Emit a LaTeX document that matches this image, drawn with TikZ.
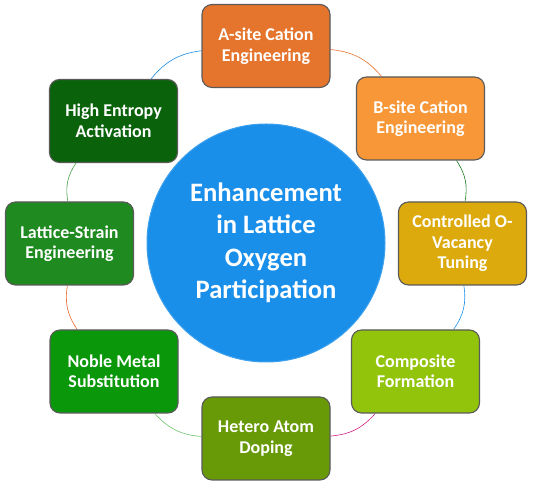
\documentclass[tikz,border=0pt]{standalone}
\usepackage{fontspec}
\setmainfont{Carlito}
\usetikzlibrary{backgrounds}
\definecolor{cHub}{HTML}{1A8FEA}
\definecolor{cAsite}{HTML}{E5742C}
\definecolor{cBsite}{HTML}{F79738}
\definecolor{cVac}{HTML}{DCAA0C}
\definecolor{cComp}{HTML}{92C40C}
\definecolor{cHetero}{HTML}{679A06}
\definecolor{cNoble}{HTML}{0A980A}
\definecolor{cStrain}{HTML}{1F8A1F}
\definecolor{cEntropy}{HTML}{0A620A}
\definecolor{cEdge}{HTML}{5A5A5A}
\tikzset{
  every picture/.style={line width=0.5pt},
  cbox/.style={draw=cEdge, line width=1.1pt, rounded corners=10pt,
               minimum width=128pt, minimum height=83pt, align=center,
               text=white, font=\bfseries\fontsize{18}{20.5}\selectfont},
  hub/.style={circle, fill=cHub, draw=cHub!85!white, line width=1pt,
              minimum size=238pt, align=center, text=white,
              font=\bfseries\fontsize{26.6}{32.5}\selectfont},
  ring/.style={line width=0.6pt, bend left=22},
}

\begin{document}
\begin{tikzpicture}[x=1pt,y=1pt]
\useasboundingbox (0,0) rectangle (533,487);

% centre
\node[hub] (hub) at (266,244) {Enhancement\\in Lattice\\Oxygen\\Participation};

% the eight routes
\node[cbox, fill=cAsite]   (asite)   at (266,441)   {A-site Cation\\Engineering};
\node[cbox, fill=cBsite]   (bsite)   at (420.5,368.5) {B-site Cation\\Engineering};
\node[cbox, fill=cVac]     (vac)     at (462.5,243.5) {Controlled O-\\Vacancy\\Tuning};
\node[cbox, fill=cComp]    (comp)    at (415.5,115.5) {Composite\\Formation};
\node[cbox, fill=cHetero]  (hetero)  at (266,48.5)  {Hetero Atom\\Doping};
\node[cbox, fill=cNoble]   (noble)   at (114,115.5) {Noble Metal\\Substitution};
\node[cbox, fill=cStrain]  (strain)  at (69.5,243.5) {Lattice-Strain\\Engineering};
\node[cbox, fill=cEntropy] (entropy) at (113.5,366) {High Entropy\\Activation};

% ring
\begin{scope}[on background layer]
\draw[ring, draw=cAsite]        (asite)   to (bsite);
\draw[ring, draw=cStrain!90!black] (bsite) to (vac);
\draw[ring, draw=cHub]          (vac)     to (comp);
\draw[ring, draw=magenta!70!violet] (comp) to (hetero);
\draw[ring, draw=cNoble!60!white] (hetero) to (noble);
\draw[ring, draw=cAsite!90!red] (noble)   to (strain);
\draw[ring, draw=cStrain!80!white] (strain) to (entropy);
\draw[ring, draw=cHub]          (entropy) to (asite);
\end{scope}

\end{tikzpicture}
\end{document}
